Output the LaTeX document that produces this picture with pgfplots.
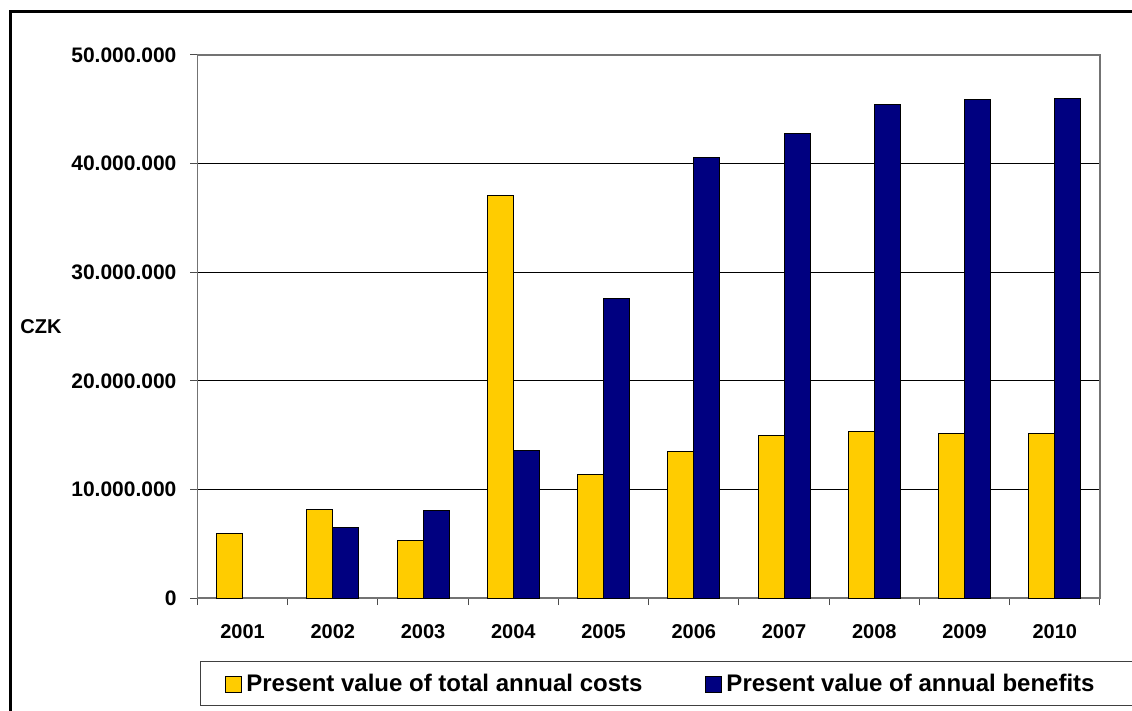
\documentclass[border=0pt]{standalone}
\usepackage{fontspec}
\setmainfont{Liberation Sans}
\usepackage{pgfplots}
\pgfplotsset{compat=1.18}

\definecolor{costyellow}{HTML}{FFCC00}
\definecolor{benefitnavy}{HTML}{000080}

\begin{document}
\begin{tikzpicture}
\path[use as bounding box] (0pt,0pt) rectangle (566pt,-355.5pt);
\clip (0pt,0pt) rectangle (566pt,-355.5pt);
% outer chart frame
\draw[line width=1.5pt] (5.25pt,-420pt) -- (5.25pt,-5.75pt) -- (640pt,-5.75pt);

\begin{axis}[
  at={(98.75pt,-299pt)}, anchor=south west,
  scale only axis, width=451.25pt, height=271.5pt,
  xmin=-0.5, xmax=9.5, ymin=0, ymax=50000000,
  ybar=0pt, bar width=13pt,
  axis line style={draw=black!55, line width=0.6pt},
  tick align=outside, major tick length=3.5pt,
  tick style={draw=black!70, line width=0.5pt},
  xtick pos=bottom, ytick pos=left,
  xtick={-0.5,0.5,1.5,2.5,3.5,4.5,5.5,6.5,7.5,8.5,9.5},
  xticklabels={2001,2002,2003,2004,2005,2006,2007,2008,2009,2010,},
  xticklabel style={xshift=22.56pt, yshift=-6pt,
    font=\bfseries\fontsize{10}{12}\selectfont},
  ytick={0,10000000,20000000,30000000,40000000,50000000},
  scaled y ticks=false,
  /pgf/number format/.cd, fixed, precision=0, 1000 sep={.}, assume math mode=true,
  /pgfplots/.cd,
  yticklabel style={xshift=-3.5pt, font=\bfseries\fontsize{10.5}{12}\selectfont},
  ymajorgrids, grid style={draw=black, line width=0.5pt},
  ylabel={CZK},
  ylabel style={rotate=-90, anchor=west, inner sep=0pt,
    font=\bfseries\fontsize{10}{12}\selectfont,
    at={(axis description cs:-0.1967,0.499)}},
  legend columns=2,
  legend style={draw=none, fill=none, inner sep=0pt,
    at={(axis description cs:0.03047,-0.1590)}, anchor=west,
    font=\bfseries\fontsize{12}{14}\selectfont,
    /tikz/every even column/.append style={column sep=29.5pt}},
  every axis plot post/.append style={
    legend image code/.code={\draw[##1, line width=0.5pt] (0pt,-4pt) rectangle (8pt,4pt);}},
]
\addplot[fill=costyellow, draw=black, line width=0.5pt] coordinates {
  (0,5950000) (1,8170000) (2,5250000) (3,37100000) (4,11400000)
  (5,13500000) (6,15000000) (7,15350000) (8,15130000) (9,15130000)};
\addplot[fill=benefitnavy, draw=black, line width=0.5pt] coordinates {
  (1,6450000) (2,8100000) (3,13600000) (4,27600000)
  (5,40600000) (6,42800000) (7,45450000) (8,45900000) (9,46000000)};
\legend{Present value of total annual costs, Present value of annual benefits}
\end{axis}
% legend frame
\draw[black!75, line width=0.5pt] (100pt,-331pt) rectangle (640pt,-353pt);
\end{tikzpicture}
\end{document}
